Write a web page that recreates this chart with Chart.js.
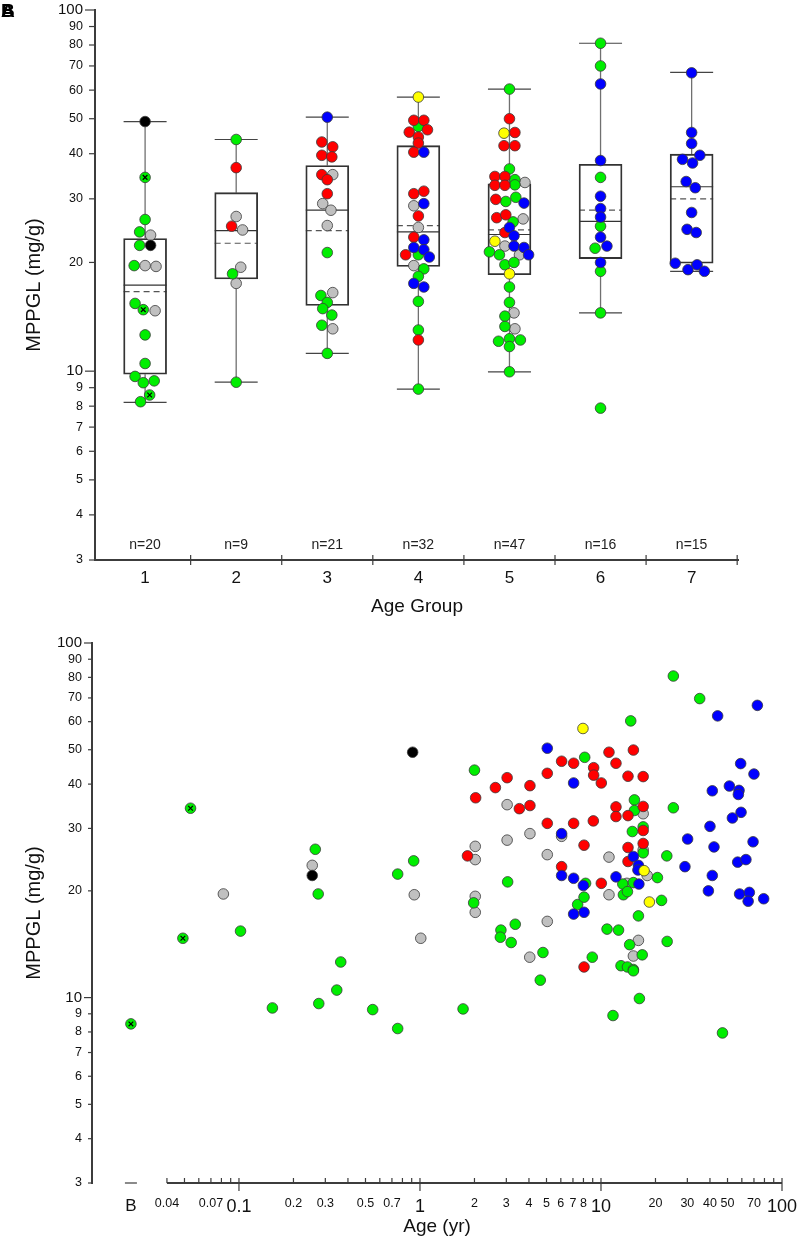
<!DOCTYPE html>
<html>
<head>
<meta charset="utf-8">
<script src="https://cdn.jsdelivr.net/npm/chart.js@4.4.0/dist/chart.umd.min.js"></script>
<style>
body{margin:0;background:#fff;}
#wrap{position:relative;width:798px;height:1246px;overflow:hidden;}
#topBox{position:absolute;left:0;top:0;width:798px;height:620px;}
#botBox{position:absolute;left:0;top:620px;width:798px;height:626px;}
.lab{position:absolute;left:1px;top:0px;font:bold 19px 'Liberation Sans',Arial,sans-serif;color:#000;}
</style>
</head>
<body>
<div id="wrap">
  <div id="topBox"><canvas id="topChart" width="798" height="620"></canvas></div>
  <div id="botBox"><canvas id="botChart" width="798" height="626"></canvas></div>
  <div class="lab">A</div><div class="lab">B</div>
</div>
<script>
'use strict';

// ---------- panel A : box plots per age group ----------
let groups = [1, 2, 3, 4, 5, 6, 7];
let groupN = [20, 9, 21, 32, 47, 16, 15];
let boxQ1 = [9.81, 18.0, 15.2, 19.5, 18.5, 20.5, 19.9];
let boxQ3 = [23.3, 31.2, 37.1, 42.1, 33.0, 37.4, 39.9];
let boxMedian = [17.3, 24.5, 27.9, 24.3, 23.9, 26.0, 32.4];
let boxMean = [16.6, 22.6, 24.5, 25.3, 24.6, 27.9, 30.0];
let whiskerLow = [8.2, 9.32, 11.2, 8.92, 9.96, 14.5, 18.9];
let whiskerHigh = [49.1, 43.8, 50.5, 57.4, 60.4, 80.9, 67.2];

let yTicks = [3, 4, 5, 6, 7, 8, 9, 10, 20, 30, 40, 50, 60, 70, 80, 90, 100];
let yMajor = [10, 100];

// points: [position in group units, MPPGL]
let topBlack = [[1, 49.1], [1.06, 22.3]];
let topGreenX = [[1, 34.4], [0.98, 14.8], [1.05, 8.59]];
let topGreen = [
  [1, 26.3], [0.94, 24.3], [0.94, 22.3], [0.88, 19.6], [0.89, 15.4], [1, 12.6], [1, 10.5],
  [0.89, 9.67], [0.98, 9.29], [1.1, 9.4], [0.95, 8.23],
  [2, 43.8], [1.96, 18.6], [2, 9.32],
  [3, 21.3], [2.93, 16.2], [3, 15.5], [2.95, 14.9], [3.05, 14.3], [2.94, 13.4], [3, 11.2],
  [4, 47.6], [4, 21.0], [4.06, 19.2], [4, 18.3], [4, 15.6], [4, 13.0], [4, 8.92],
  [5, 60.4], [5, 36.3], [5.06, 33.9], [5.06, 32.8], [5.07, 30.3], [4.96, 29.5], [5.04, 25.9],
  [4.78, 21.4], [4.89, 21.0], [4.95, 19.7], [5.05, 20.0], [5, 17.1], [5, 15.5], [4.95, 14.2],
  [4.95, 13.3], [4.88, 12.1], [5, 12.3], [5.12, 12.2], [5, 11.7], [5, 9.96],
  [6, 80.9], [6, 70.0], [6, 34.4], [6, 25.2], [5.94, 21.9], [6, 18.9], [6, 14.5], [6, 7.9]
];
let topGray = [
  [1.06, 23.8], [1, 19.6], [1.12, 19.5], [1.11, 14.7],
  [2, 26.8], [2.07, 24.6], [2.05, 19.4], [2, 17.5],
  [3.06, 35.0], [2.95, 29.1], [3.04, 27.9], [3, 25.3], [3.06, 16.5], [3.06, 13.1],
  [3.95, 28.7], [4, 25.0], [3.95, 19.6],
  [5.17, 33.3], [5.15, 26.4], [4.95, 22.2], [5.11, 21.0], [5.05, 14.5], [5.06, 13.1]
];
let topRed = [
  [2, 36.6], [1.95, 25.2],
  [2.94, 43.1], [3.06, 41.8], [2.94, 39.6], [3.05, 39.2], [2.94, 35.0], [3, 33.9], [3, 31.0],
  [3.95, 49.5], [4.06, 49.5], [3.9, 45.9], [4.1, 46.6], [4, 44.5], [4, 42.8], [3.95, 40.4],
  [3.95, 31.0], [4.06, 31.5], [4, 26.9], [3.95, 23.5], [3.86, 21.0], [4, 12.2],
  [5, 50.0], [5.06, 45.8], [4.94, 42.1], [5.06, 42.1], [4.84, 34.6], [4.95, 34.6], [4.84, 32.7],
  [4.95, 32.7], [4.85, 29.9], [4.86, 26.6], [4.96, 27.1], [4.95, 24.2]
];
let topBlue = [
  [3, 50.5],
  [4.06, 40.4], [4.06, 29.1], [4.06, 23.1], [3.95, 22.0], [4.06, 21.7], [4.12, 20.7], [3.95, 17.5], [4.06, 17.1],
  [5.16, 29.2], [5, 25.0], [5.05, 23.7], [5.05, 22.2], [5.16, 22.0], [5.21, 21.0],
  [6, 62.4], [6, 38.3], [6, 30.5], [6, 28.2], [6, 26.7], [6, 23.5], [6.07, 22.2], [6, 20.0],
  [7, 67.0], [7, 45.8], [7, 42.7], [7.09, 39.6], [6.9, 38.6], [7.01, 37.7], [6.94, 33.5], [7.04, 32.2],
  [7, 27.5], [6.95, 24.7], [7.05, 24.2], [6.82, 19.9], [7.06, 19.7], [6.96, 19.1], [7.14, 18.9]
];
let topYellow = [[4, 57.4], [4.94, 45.6], [4.84, 22.9], [5, 18.6]];

// ---------- panel B : MPPGL vs age ----------
// age 0 = birth, shown at "B"
let botGreenX = [[0, 8.43], [0.054, 34.2], [0.049, 14.7]];
let botBlack = [[0.254, 22.1], [0.911, 49.2]];
let botGray = [
  [0.082, 19.6], [0.254, 23.6], [0.93, 19.5], [1.01, 14.7], [2.02, 26.7], [2.02, 24.5], [2.02, 19.3],
  [2.02, 17.4], [3.03, 35.0], [3.03, 27.8], [4.05, 29.0], [4.04, 13.0], [5.05, 25.3], [5.05, 16.4],
  [6.06, 28.5], [11.07, 24.9], [11.07, 19.5], [13.9, 21.0], [15.1, 13.1], [16.1, 14.5], [17.1, 33.0],
  [17.1, 26.1], [18.0, 22.1]
];
let botGreen = [
  [0.102, 15.4], [0.153, 9.35], [0.264, 26.2], [0.274, 19.6], [0.276, 9.62], [0.365, 12.6], [0.347, 10.5],
  [0.548, 9.25], [0.753, 22.3], [0.753, 8.18], [0.923, 24.3], [1.73, 9.29], [2.0, 43.8], [1.98, 18.5],
  [2.80, 15.5], [2.78, 14.8], [3.19, 14.3], [3.36, 16.1], [3.05, 21.2], [4.62, 11.2], [4.78, 13.4],
  [7.43, 18.3], [8.06, 19.2], [8.13, 47.6], [8.22, 21.0], [8.95, 13.0], [10.8, 15.6], [11.65, 8.9],
  [12.5, 15.5], [12.9, 12.3], [13.2, 20.9], [13.3, 19.5], [14.0, 19.9], [14.0, 12.2], [14.4, 14.1],
  [14.6, 60.3], [14.9, 29.4], [15.1, 21.1], [15.1, 12.0], [15.1, 11.9], [15.3, 36.1], [15.3, 33.7],
  [16.1, 17.0], [16.3, 9.94], [16.9, 13.2], [17.1, 30.3], [17.1, 25.6], [20.5, 21.8], [21.6, 18.8],
  [23.1, 25.1], [23.2, 14.4], [25.1, 80.7], [25.1, 34.3], [35.1, 69.7], [46.9, 7.95]
];
let botRed = [
  [1.83, 25.1], [2.03, 36.6], [2.61, 39.1], [3.03, 41.7], [3.54, 34.1], [4.05, 39.6], [4.05, 34.8],
  [5.05, 42.9], [5.05, 31.0], [6.06, 46.4], [6.06, 23.4], [7.06, 45.8], [7.06, 31.0], [8.06, 26.9],
  [8.06, 12.2], [9.11, 44.5], [9.11, 42.4], [9.07, 31.5], [10.04, 40.3], [10.04, 21.0], [11.07, 49.2],
  [12.1, 45.8], [12.1, 34.5], [12.1, 32.4], [14.1, 42.1], [14.1, 32.6], [14.1, 26.5], [14.1, 24.2],
  [15.1, 49.9], [17.1, 42.0], [17.1, 34.6], [17.1, 29.6], [17.1, 27.2]
];
let botBlue = [
  [5.05, 50.5], [7.06, 40.3], [6.06, 29.0], [6.06, 22.1], [7.06, 21.7], [7.99, 20.7], [7.06, 17.2],
  [8.06, 17.4], [12.1, 21.9], [15.1, 25.0], [16.1, 23.6], [16.0, 22.9], [16.2, 20.9],
  [44.1, 62.3], [73.1, 66.7], [59.1, 45.7], [70.0, 42.7], [41.2, 38.3], [51.2, 39.5], [57.9, 38.4],
  [57.4, 37.4], [59.4, 33.3], [53.2, 32.1], [40.0, 30.4], [30.1, 28.0], [69.2, 27.5], [42.1, 26.6],
  [56.9, 24.1], [63.2, 24.5], [29.1, 23.4], [41.2, 22.1], [39.2, 20.0], [58.3, 19.6], [66.0, 19.8],
  [65.0, 18.7], [79.2, 19.0]
];
let botYellow = [[7.95, 57.4], [17.3, 22.8], [18.5, 18.6]];

let ageTickLabels = [0.04, 0.07, 0.1, 0.2, 0.3, 0.5, 0.7, 1, 2, 3, 4, 5, 6, 7, 8, 10, 20, 30, 40, 50, 70, 100];
let ageTickMarks = [0.04, 0.05, 0.06, 0.07, 0.08, 0.09, 0.1, 0.2, 0.3, 0.4, 0.5, 0.6, 0.7, 0.8, 0.9,
  1, 2, 3, 4, 5, 6, 7, 8, 9, 10, 20, 30, 40, 50, 60, 70, 80, 90, 100];
let ageMajor = [0.1, 1, 10, 100];
let birthPos = 0.0253;   // where "B" sits on the age axis

const FONT = "'Liberation Sans', Arial, sans-serif";
const AXIS = '#3c3c3c';

Chart.defaults.font.family = FONT;
Chart.defaults.color = '#111';

function toXY(arr) {
  return arr.map(p => ({x: p[0] === 0 ? birthPos : p[0], y: p[1]}));
}

function dots(arr, color, order) {
  return {
    type: 'scatter', data: toXY(arr), backgroundColor: color, borderColor: '#3a3a3a',
    borderWidth: 0.8, pointRadius: 5.3, order: order
  };
}

function crosses(arr) {
  return {
    type: 'scatter', data: toXY(arr), pointStyle: 'crossRot', pointRadius: 3.3,
    borderColor: '#000', borderWidth: 1.2, backgroundColor: '#000', order: 0
  };
}

function seg(ctx, x1, y1, x2, y2) {
  ctx.beginPath();
  ctx.moveTo(x1, y1);
  ctx.lineTo(x2, y2);
  ctx.stroke();
}

function noPadX(s, h) {
  s.height = h;
  s.paddingLeft = 0;
  s.paddingRight = 0;
}

function noPadY(s, w) {
  s.width = w;
  s.paddingTop = 0;
  s.paddingBottom = 0;
}

let boxPlugin = {
  id: 'boxPlugin',
  beforeDatasetsDraw(chart) {
    let ctx = chart.ctx;
    let x = chart.scales.x, y = chart.scales.y;
    let area = chart.chartArea;
    let half = 21.5;
    ctx.save();
    for (let i = 0; i < groups.length; i++) {
      let cx = x.getPixelForValue(groups[i]);
      ctx.setLineDash([]);
      ctx.strokeStyle = '#707070';
      ctx.lineWidth = 1.3;
      seg(ctx, cx, y.getPixelForValue(boxQ3[i]), cx, y.getPixelForValue(whiskerHigh[i]));
      seg(ctx, cx, y.getPixelForValue(boxQ1[i]), cx, y.getPixelForValue(whiskerLow[i]));
      ctx.strokeStyle = '#444';
      ctx.lineWidth = 1.2;
      seg(ctx, cx - half, y.getPixelForValue(whiskerHigh[i]), cx + half, y.getPixelForValue(whiskerHigh[i]));
      seg(ctx, cx - half, y.getPixelForValue(whiskerLow[i]), cx + half, y.getPixelForValue(whiskerLow[i]));
      ctx.strokeStyle = '#333';
      seg(ctx, cx - half, y.getPixelForValue(boxMedian[i]), cx + half, y.getPixelForValue(boxMedian[i]));
      ctx.setLineDash([6, 4]);
      ctx.strokeStyle = '#555';
      seg(ctx, cx - half, y.getPixelForValue(boxMean[i]), cx + half, y.getPixelForValue(boxMean[i]));
    }
    ctx.setLineDash([]);

    // axes
    ctx.strokeStyle = AXIS;
    ctx.lineWidth = 2;
    seg(ctx, area.left, area.top - 1, area.left, area.bottom + 1);
    seg(ctx, area.left, area.bottom, area.right, area.bottom);
    ctx.lineWidth = 1.2;
    yTicks.forEach(v => {
      let py = y.getPixelForValue(v);
      let len = yMajor.includes(v) ? 10 : 6;
      seg(ctx, area.left - len, py, area.left, py);
    });
    for (let i = 0; i < groups.length; i++) {
      let px = x.getPixelForValue(groups[i] + 0.5);
      seg(ctx, px, area.bottom - 5, px, area.bottom + 5);
    }

    // n= labels
    ctx.fillStyle = '#222';
    ctx.font = '14px ' + FONT;
    ctx.textAlign = 'center';
    ctx.textBaseline = 'middle';
    for (let i = 0; i < groups.length; i++) {
      ctx.fillText('n=' + groupN[i], x.getPixelForValue(groups[i]), area.bottom - 15);
    }
    ctx.restore();
  }
};

let topChart = new Chart(document.getElementById('topChart'), {
  type: 'scatter',
  data: {
    datasets: [
      {
        type: 'bar',
        data: groups.map((g, i) => ({x: g, y: [boxQ1[i], boxQ3[i]]})),
        backgroundColor: 'rgba(255,255,255,0)',
        borderColor: '#333',
        borderWidth: 1.2,
        borderSkipped: false,
        barThickness: 43,
        order: 20
      },
      dots(topGray, '#c0c0c0', 6),
      dots(topGreen, '#00ee00', 5),
      dots(topGreenX, '#00ee00', 5),
      crosses(topGreenX),
      dots(topRed, '#ff0000', 4),
      dots(topBlue, '#0000ff', 3),
      dots(topYellow, '#ffff00', 2),
      dots(topBlack, '#000000', 1)
    ]
  },
  options: {
    responsive: false,
    animation: false,
    events: [],
    layout: {padding: {left: 0, top: 10, right: 59, bottom: 0}},
    plugins: {legend: {display: false}, tooltip: {enabled: false}},
    scales: {
      x: {
        type: 'linear', min: 0.45, max: 7.52, offset: false,
        grid: {display: false, drawTicks: false}, border: {display: false},
        afterBuildTicks: s => { s.ticks = groups.map(v => ({value: v})); },
        afterFit: s => noPadX(s, 60),
        ticks: {font: {size: 17}, padding: 8, color: '#111', callback: v => String(v)},
        title: {display: true, text: 'Age Group', font: {size: 19}, color: '#111', padding: {top: 0, bottom: 2}}
      },
      y: {
        type: 'logarithmic', min: 3, max: 100,
        grid: {display: false, drawTicks: false}, border: {display: false},
        afterBuildTicks: s => { s.ticks = yTicks.map(v => ({value: v})); },
        afterFit: s => noPadY(s, 95),
        ticks: {
          autoSkip: false, padding: 12, color: '#111',
          callback: v => String(v),
          font: c => ({size: c.tick && yMajor.includes(c.tick.value) ? 15 : 12.5})
        },
        title: {display: true, text: 'MPPGL (mg/g)', font: {size: 20}, color: '#111', padding: {top: 22, bottom: 0}}
      }
    }
  },
  plugins: [boxPlugin]
});

let agePlugin = {
  id: 'agePlugin',
  beforeDatasetsDraw(chart) {
    let ctx = chart.ctx;
    let x = chart.scales.x, y = chart.scales.y;
    let area = chart.chartArea;
    ctx.save();
    ctx.strokeStyle = AXIS;
    ctx.lineWidth = 2;
    seg(ctx, area.left, area.top - 1, area.left, area.bottom + 1);
    seg(ctx, x.getPixelForValue(ageTickMarks[0]), area.bottom, x.getPixelForValue(100), area.bottom);
    ctx.lineWidth = 1.2;
    yTicks.forEach(v => {
      let py = y.getPixelForValue(v);
      let len = yMajor.includes(v) ? 8 : 4;
      seg(ctx, area.left - len, py, area.left, py);
    });
    ageTickMarks.forEach(v => {
      let px = x.getPixelForValue(v);
      if (ageMajor.includes(v)) {
        seg(ctx, px, area.bottom - 5, px, area.bottom + 8);
      } else {
        seg(ctx, px, area.bottom - 5, px, area.bottom);
      }
    });
    let bx = x.getPixelForValue(birthPos);
    seg(ctx, bx - 6, area.bottom, bx + 6, area.bottom);
    ctx.restore();
  }
};

let botChart = new Chart(document.getElementById('botChart'), {
  type: 'scatter',
  data: {
    datasets: [
      dots(botGray, '#c0c0c0', 6),
      dots(botGreen, '#00ee00', 5),
      dots(botGreenX, '#00ee00', 5),
      crosses(botGreenX),
      dots(botRed, '#ff0000', 4),
      dots(botBlue, '#0000ff', 3),
      dots(botYellow, '#ffff00', 2),
      dots(botBlack, '#000000', 1)
    ]
  },
  options: {
    responsive: false,
    animation: false,
    events: [],
    layout: {padding: {left: 0, top: 23, right: 16, bottom: 0}},
    plugins: {legend: {display: false}, tooltip: {enabled: false}},
    scales: {
      x: {
        type: 'logarithmic', min: 0.01542, max: 100, offset: false,
        grid: {display: false, drawTicks: false}, border: {display: false},
        afterBuildTicks: s => { s.ticks = [birthPos].concat(ageTickLabels).map(v => ({value: v})); },
        afterFit: s => noPadX(s, 63),
        ticks: {
          autoSkip: false, maxRotation: 0, padding: 13, color: '#111',
          callback: v => (v === birthPos ? 'B' : String(v)),
          font: c => {
            if (c.tick && c.tick.value === birthPos) return {size: 17};
            if (c.tick && ageMajor.includes(c.tick.value)) return {size: 18};
            return {size: 12.5};
          }
        },
        title: {display: true, text: 'Age (yr)', font: {size: 19}, color: '#111', padding: {top: 0, bottom: 8}}
      },
      y: {
        type: 'logarithmic', min: 3, max: 100,
        grid: {display: false, drawTicks: false}, border: {display: false},
        afterBuildTicks: s => { s.ticks = yTicks.map(v => ({value: v})); },
        afterFit: s => noPadY(s, 92),
        ticks: {
          autoSkip: false, padding: 10, color: '#111',
          callback: v => String(v),
          font: c => ({size: c.tick && yMajor.includes(c.tick.value) ? 15 : 12.5})
        },
        title: {display: true, text: 'MPPGL (mg/g)', font: {size: 20}, color: '#111', padding: {top: 22, bottom: 0}}
      }
    }
  },
  plugins: [agePlugin]
});
</script>
</body>
</html>
